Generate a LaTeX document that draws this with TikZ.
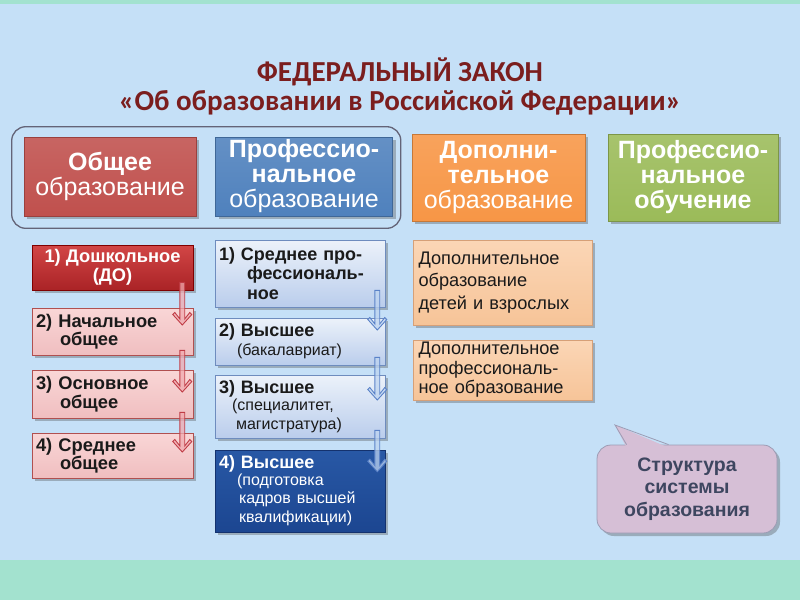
\documentclass[tikz,border=0pt]{standalone}
\usepackage{fontspec}
\setmainfont{Liberation Sans}
\newfontfamily\titlefont{Carlito}
\usetikzlibrary{shadows,calc}
\definecolor{bgblue}{HTML}{C5E0F7}
\definecolor{mint}{HTML}{A3E2CF}
\definecolor{titlered}{HTML}{7B1E1E}
\definecolor{txtdark}{HTML}{1A1A1A}
\definecolor{callouttxt}{HTML}{3E4660}
\definecolor{cred}{HTML}{C0504D}
\definecolor{cblue}{HTML}{4F81BD}
\definecolor{corange}{HTML}{F79646}
\definecolor{cgreen}{HTML}{9BBB59}
\definecolor{pinktop}{HTML}{F9D6D6}
\definecolor{pinkbot}{HTML}{F0BEC0}
\definecolor{pinkline}{HTML}{B05050}
\definecolor{lbtop}{HTML}{ECF2FA}
\definecolor{lbbot}{HTML}{BACDEC}
\definecolor{lbline}{HTML}{6E8CBE}
\definecolor{petop}{HTML}{FBD6B6}
\definecolor{pebot}{HTML}{F6C498}
\definecolor{peline}{HTML}{D6A078}
\definecolor{drtop}{HTML}{D24646}
\definecolor{drbot}{HTML}{AA2326}
\definecolor{dbtop}{HTML}{2858A5}
\definecolor{dbbot}{HTML}{1C4691}
\definecolor{dbline}{HTML}{14326E}
\definecolor{arrred}{HTML}{C03C46}
\definecolor{arrredf}{HTML}{F0AAAF}
\definecolor{arrblue}{HTML}{5A82C8}
\definecolor{arrbluef}{HTML}{BED4F0}
\definecolor{frameline}{HTML}{646478}
\definecolor{callfill}{HTML}{D6BFD6}
\definecolor{callline}{HTML}{9C9CB4}
\newcommand\fsz[2]{\fontsize{#1}{#2}\selectfont}
\newcommand\hollowarr[4]{%
  \draw[draw=#3, line width=0.9pt, fill=#4, fill opacity=0.75] let \p1=(#1), \p2=(#2) in
  (\x1-2.4pt,\y1) -- (\x1-2.4pt,\y2+6pt) -- (\x1-7.5pt,\y2+12.5pt) -- (\x1-9.5pt,\y2+10.5pt)
  -- (\x1,\y2) -- (\x1+9.5pt,\y2+10.5pt) -- (\x1+7.5pt,\y2+12.5pt) -- (\x1+2.4pt,\y2+6pt)
  -- (\x1+2.4pt,\y1) -- cycle;}
\tikzset{
  shad/.style={drop shadow={shadow xshift=3pt,shadow yshift=-3pt,opacity=0.35,fill=black!70}},
  topbox/.style={shad, draw=#1!80!black, line width=0.6pt, top color=#1!88!white, bottom color=#1, text=white, align=center, inner sep=2pt, font=\fsz{25}{25}},
  pinkbox/.style={shad, draw=pinkline, line width=0.6pt, top color=pinktop, bottom color=pinkbot, text=txtdark, minimum width=161, inner sep=0pt},
  bluebox/.style={shad, draw=lbline, line width=0.6pt, top color=lbtop, bottom color=lbbot, text=txtdark, minimum width=170, inner sep=0pt},
  peachbox/.style={shad, draw=peline, line width=0.6pt, top color=petop, bottom color=pebot, text=txtdark, minimum width=179, inner sep=0pt},
}
\begin{document}
\begin{tikzpicture}[x=1pt,y=-1pt]
\useasboundingbox (0,0) rectangle (800,600);
\fill[bgblue] (0,0) rectangle (800,600);
\fill[mint] (0,0) rectangle (800,4);
\fill[mint] (0,560) rectangle (800,600);

% title
\node[text=titlered, font=\titlefont\bfseries\fsz{29}{32}] (t1) at (400,72) {ФЕДЕРАЛЬНЫЙ ЗАКОН};
\node[text=titlered, font=\titlefont\bfseries\fsz{29}{32}] (t2) at (400,103) {«Об образовании в Российской Федерации»};

% top boxes
\node[topbox=cred, minimum width=172, minimum height=79, font=\fsz{25}{23}] (gen) at (110,176.5)
  {{\bfseries Общее}\\образование};
\node[topbox=cblue, minimum width=177, minimum height=79] (prof) at (304,176.5)
  {{\bfseries Профессио-}\\{\bfseries нальное}\\образование};
\node[topbox=corange, minimum width=173, minimum height=87] (dop) at (498.5,177.5)
  {{\bfseries Дополни-}\\{\bfseries тельное}\\образование};
\node[topbox=cgreen, minimum width=170, minimum height=87] (pob) at (693,177.5)
  {{\bfseries Профессио-}\\{\bfseries нальное}\\{\bfseries обучение}};

% frame around first two
\draw[draw=frameline, line width=1.3pt, rounded corners=14]
  ($(gen.north west)+(-12,-10)$) rectangle ($(prof.south east)+(8,12)$);

% left column
\node[shad, draw=red!50!black, line width=0.6pt, top color=drtop, bottom color=drbot,
  text=white, minimum width=161, minimum height=45, align=center, font=\bfseries\fsz{18.3}{18.5}] (l1) at (112.5,267.5)
  {1) Дошкольное\\(ДО)};
\node[pinkbox, minimum height=47, text width=153, align=left, font=\bfseries\fsz{18.3}{18.5}] (l2) at (112.5,331.5)
  {2) Начальное\\\hspace*{24pt}общее};
\node[pinkbox, minimum height=48, text width=153, align=left, font=\bfseries\fsz{18.3}{18.5}] (l3) at (112.5,394)
  {3) Основное\\\hspace*{24pt}общее};
\node[pinkbox, minimum height=45, text width=153, align=left, font=\bfseries\fsz{18.3}{18.5}] (l4) at (112.5,455.5)
  {4) Среднее\\\hspace*{24pt}общее};

% middle column
\node[bluebox, minimum height=67, text width=162, align=left, font=\bfseries\fsz{18}{19.5}] (m1) at (300,273.5)
  {1) Среднее про-\\\hspace*{28pt}фессиональ-\\\hspace*{28pt}ное};
\node[bluebox, minimum height=47, text width=162, align=left, font=\bfseries\fsz{18}{19}] (m2) at (300,341.5)
  {2) Высшее\\\hspace*{18pt}{\mdseries\fsz{16}{17}(бакалавриат)}};
\node[bluebox, minimum height=63, text width=162, align=left, font=\bfseries\fsz{18}{19}] (m3) at (300,406.5)
  {3) Высшее\\[-1pt]{\mdseries\fsz{16}{18}\hspace*{13pt}(специалитет,\\\hspace*{17pt}магистратура)}};
\node[shad, draw=dbline, line width=0.6pt, top color=dbtop, bottom color=dbbot,
  text=white, minimum width=170, minimum height=82, inner sep=0pt, text width=162, align=left, font=\bfseries\fsz{18}{19}] (m4) at (300,491)
  {4) Высшее\\[-1pt]{\mdseries\fsz{16}{18}\hspace*{18pt}(подготовка\\\hspace*{20pt}кадров высшей\\\hspace*{20pt}квалификации)}};

% right column
\node[peachbox, minimum height=85, text width=168, align=left, font=\fsz{18.2}{22.5}] (r1) at (502.5,282.5)
  {Дополнительное\\образование\\детей и взрослых};
\node[peachbox, minimum height=60, text width=168, align=left, font=\fsz{18.2}{19.5}] (r2) at (502.5,370)
  {Дополнительное\\профессиональ-\\ное образование};

% arrows
\coordinate (la1) at ($(l1.south east)+(-11,-8)$);
\coordinate (lb1) at ($(l2.east)+(-11,-6.5)$);
\coordinate (la2) at ($(l2.south east)+(-11,-5)$);
\coordinate (lb2) at ($(l3.east)+(-11,-2)$);
\coordinate (la3) at ($(l3.south east)+(-11,-6)$);
\coordinate (lb3) at ($(l4.east)+(-11,-3.5)$);
\hollowarr{la1}{lb1}{arrred}{arrredf}
\hollowarr{la2}{lb2}{arrred}{arrredf}
\hollowarr{la3}{lb3}{arrred}{arrredf}
\coordinate (ma1) at ($(m1.south east)+(-8,-17)$);
\coordinate (mb1) at ($(m2.east)+(-8,-11.5)$);
\coordinate (ma2) at ($(m2.south east)+(-8,-8)$);
\coordinate (mb2) at ($(m3.east)+(-8,-6.5)$);
\coordinate (ma3) at ($(m3.south east)+(-8,-8)$);
\coordinate (mb3) at ($(m4.north east)+(-8,22)$);
\hollowarr{ma1}{mb1}{arrblue}{arrbluef}
\hollowarr{ma2}{mb2}{arrblue}{arrbluef}
\hollowarr{ma3}{mb3}{arrblue}{arrbluef}

% callout
\node[shad, draw=callline, line width=0.8pt, fill=callfill, rounded corners=14, minimum width=180, minimum height=88,
  text=callouttxt, align=center, font=\bfseries\fsz{19.5}{22.5}] (call) at (687,489)
  {Структура\\системы\\образования};
\coordinate (ctip) at (615,425);
\coordinate (cb1) at ($(call.north west)+(30,0)$);
\coordinate (cb2) at ($(call.north west)+(72,0)$);
\fill[callfill] (ctip) -- ($(cb1)+(0,3)$) -- ($(cb2)+(0,3)$) -- cycle;
\draw[callline, line width=0.8pt] (cb1) -- (ctip) -- (cb2);
\end{tikzpicture}
\end{document}
